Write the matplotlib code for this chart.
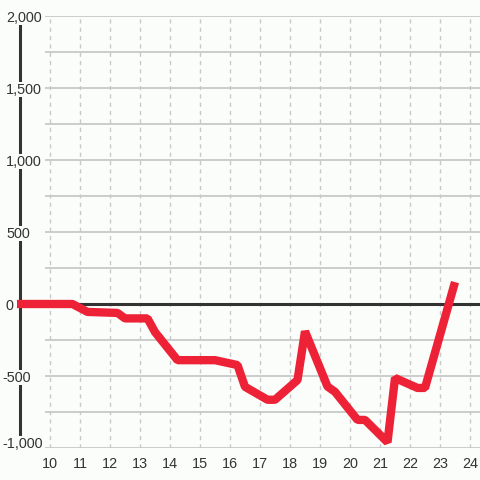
import matplotlib
matplotlib.use("Agg")
import matplotlib.pyplot as plt
import matplotlib.transforms as mtransforms

# Data
x_hours = [8.9, 10.75, 11.25, 12.25, 12.5, 13.25, 13.5, 14.25, 15.5, 16.25, 16.5,
           17.25, 17.5, 18.25, 18.5, 19.25, 19.5, 20.25, 20.5, 21.25, 21.5,
           22.25, 22.5, 23.5]
y_values = [0, 0, -55, -62, -100, -100, -195, -390, -390, -424, -575,
            -665, -665, -528, -190, -573, -610, -805, -805, -960, -514,
            -583, -583, 152]
x_ticks = list(range(10, 25))
y_ticks = [2000, 1500, 1000, 500, 0, -500, -1000]
y_tick_labels = ["2,000", "1,500", "1,000", "500", "0", "-500", "-1,000"]
y_grid = list(range(-1000, 2001, 250))

BG = "#fbfdfb"
DARK = "#333333"
GRID = "#c8c8c8"
RED = "#ee2236"

fig = plt.figure(figsize=(4.8, 4.8), dpi=100, facecolor=BG)
ax = fig.add_axes([0, 1-448/480, 1, 432/480])
ax.set_facecolor(BG)
x0 = 9 - 20/30
ax.set_xlim(x0, x0 + 480/30)
ax.set_ylim(-1000, 2000)
for s in ax.spines.values():
    s.set_visible(False)
ax.set_xticks([])
ax.set_yticks([])

def px_to_x(p):
    return x0 + p/30

# vertical dashed grid
for xv in x_ticks:
    ax.axvline(xv, color=GRID, lw=1, ls=(0, (3, 3)), zorder=1)
# horizontal grid
for yv in y_grid:
    ax.hlines(yv, px_to_x(45), px_to_x(480), color=GRID, lw=1.3, zorder=1)

# y axis line
ax.axvline(px_to_x(20.5), color=DARK, lw=2.2, zorder=2)
# zero line
ax.hlines(0, px_to_x(17), px_to_x(480), color=DARK, lw=2.2, zorder=2)

# series
ax.plot(x_hours, y_values, color=RED, lw=6.0, solid_joinstyle="bevel",
        solid_capstyle="butt", zorder=4)

# y labels (left aligned, minus hanging out)
ytr = mtransforms.blended_transform_factory(ax.transAxes, ax.transData)
down = mtransforms.ScaledTranslation(0, -1.5/100, fig.dpi_scale_trans)
for yv, lab in zip(y_ticks, y_tick_labels):
    ypos = yv if yv != -1000 else -960
    xp = 2.5 if lab.startswith("-") else 6
    ax.text(xp/480, ypos, lab, transform=ytr + down, ha="left", va="center",
            fontsize=10.4, color=DARK, family="Liberation Sans", zorder=5,
            bbox=dict(facecolor=BG, edgecolor="none", pad=0.3))

# x labels
xtr = mtransforms.blended_transform_factory(ax.transData, ax.transAxes)
for xv in x_ticks:
    ax.text(xv, -14/432, str(xv), transform=xtr + down, ha="center", va="center",
            fontsize=10.4, color=DARK, family="Liberation Sans")

fig.savefig("out.png", dpi=100, facecolor=BG)
